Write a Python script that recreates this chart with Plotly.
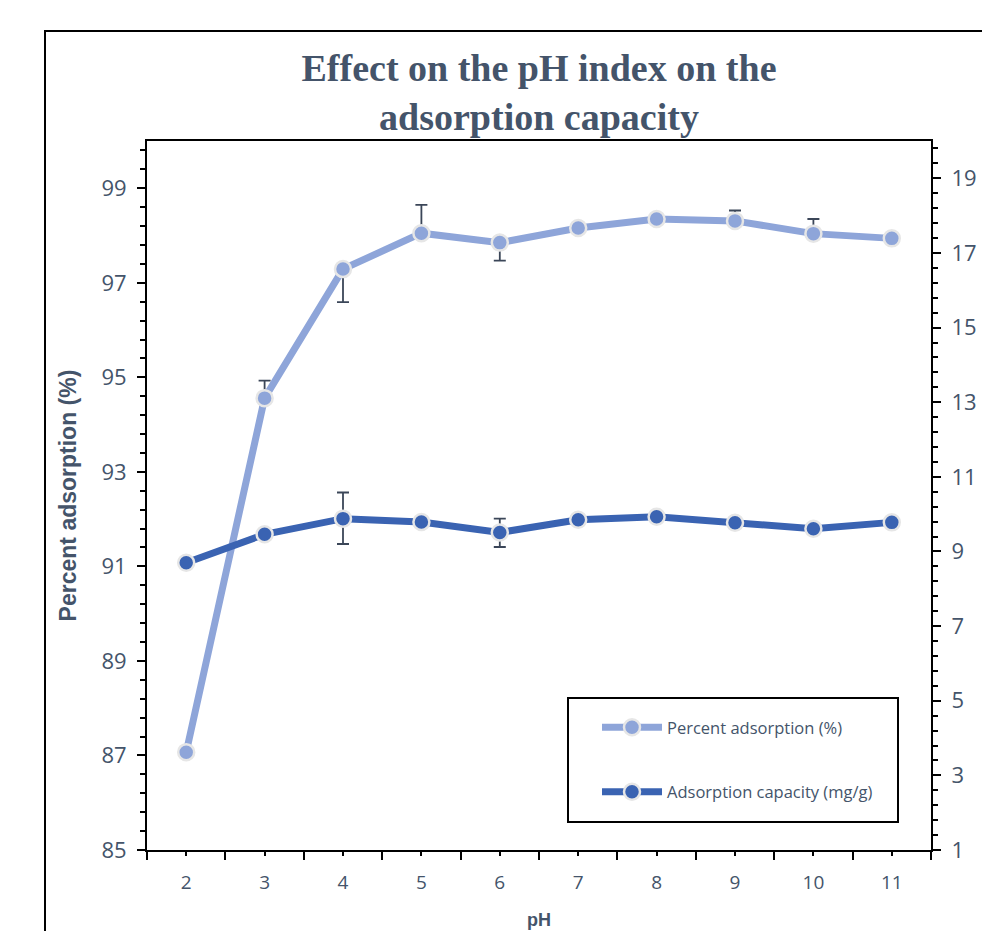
import plotly.graph_objects as go

# pH values and measured series
ph = [2, 3, 4, 5, 6, 7, 8, 9, 10, 11]
percent_adsorption = [87.07, 94.56, 97.29, 98.05, 97.85, 98.16, 98.35, 98.31, 98.04, 97.94]
percent_err_plus = [0, 0.37, 0, 0.60, 0, 0, 0, 0.22, 0.31, 0]
percent_err_minus = [0, 0, 0.70, 0, 0.38, 0, 0, 0, 0, 0]

capacity = [8.70, 9.46, 9.88, 9.79, 9.51, 9.85, 9.93, 9.77, 9.61, 9.78]
capacity_err_plus = [0, 0, 0.70, 0, 0.37, 0, 0, 0, 0, 0]
capacity_err_minus = [0, 0, 0.68, 0, 0.39, 0, 0, 0, 0, 0]

x_ticks = [str(v) for v in ph]

TEXT = "#44546A"
ERR = "#3B4658"
LIGHT = "#8EA5D9"
DARK = "#3A63B2"
X_TICK_FONT = dict(family="Open Sans", size=19, color=TEXT)
Y_TICK_FONT = dict(family="Open Sans", size=22, color=TEXT)

W, H = 982, 931
L, R, T, B = 147, 51, 141, 81

fig = go.Figure()

fig.add_trace(go.Scatter(
    x=ph, y=percent_adsorption, name="Percent adsorption (%)",
    mode="lines+markers", legendgroup="a",
    line=dict(color=LIGHT, width=7),
    marker=dict(size=16, color=LIGHT, line=dict(color="#E6E6E6", width=2.5)),
    error_y=dict(type="data", symmetric=False, array=percent_err_plus,
                 arrayminus=percent_err_minus, color=ERR, thickness=1.8, width=6),
))
fig.add_trace(go.Scatter(
    x=ph, y=capacity, name="Adsorption capacity (mg/g)", yaxis="y2",
    mode="lines+markers", legendgroup="b",
    line=dict(color=DARK, width=7),
    marker=dict(size=16, color=DARK, line=dict(color="#E6E6E6", width=2.5)),
    error_y=dict(type="data", symmetric=False, array=capacity_err_plus,
                 arrayminus=capacity_err_minus, color=ERR, thickness=1.8, width=6),
))

def px_x(p):
    return (p - L) / (W - L - R)

def px_y(p):
    return (H - B - p) / (H - T - B)

fig.update_layout(
    width=W, height=H,
    margin=dict(l=L, r=R, t=T, b=B, autoexpand=False),
    paper_bgcolor="white", plot_bgcolor="white",
    title=dict(
        text="Effect on the pH index on the<br>adsorption capacity",
        font=dict(family="Liberation Serif", size=38, color=TEXT, weight="bold"),
        x=0.5, xref="paper", xanchor="center",
        y=1 - 81 / H, yref="container", yanchor="top",
        automargin=False,
    ),
    xaxis=dict(
        range=[1.5, 11.5], tickvals=ph, ticktext=x_ticks,
        ticks="outside", ticklen=4, tickwidth=2, tickcolor="black",
        minor=dict(tickvals=[v + 0.5 for v in [1] + ph], ticks="outside",
                   ticklen=8, tickwidth=2, tickcolor="black"),
        showline=True, linecolor="black", linewidth=2, mirror=True,
        showgrid=False, zeroline=False, tickfont=X_TICK_FONT,
        ticklabelstandoff=10, automargin=False,
        title=dict(text="pH", font=dict(family="Liberation Sans", size=18,
                                          color=TEXT, weight="bold"), standoff=20),
    ),
    yaxis=dict(
        range=[85, 100], tick0=85, dtick=2, ticks="outside", ticklen=8,
        tickwidth=2, tickcolor="black",
        minor=dict(tick0=85, dtick=0.4, ticks="outside", ticklen=5,
                   tickwidth=2, tickcolor="black"),
        showline=True, linecolor="black", linewidth=2,
        showgrid=False, zeroline=False, tickfont=Y_TICK_FONT,
        ticklabelstandoff=6, automargin=False,
        title=dict(text="Percent adsorption (%)",
                   font=dict(family="Liberation Sans", size=23, color=TEXT,
                             weight="bold"), standoff=18),
    ),
    yaxis2=dict(
        range=[1, 20], tick0=1, dtick=2, overlaying="y", side="right",
        ticks="outside", ticklen=8, tickwidth=2, tickcolor="black",
        minor=dict(tick0=1, dtick=0.4, ticks="outside", ticklen=5,
                   tickwidth=2, tickcolor="black"),
        showline=True, linecolor="black", linewidth=2,
        showgrid=False, zeroline=False, tickfont=Y_TICK_FONT,
        ticklabelstandoff=6, automargin=False,
    ),
    legend=dict(
        x=px_x(597), y=px_y(710), xanchor="left", yanchor="top",
        bgcolor="rgba(0,0,0,0)", borderwidth=0,
        font=dict(family="Open Sans", size=16.5, color=TEXT),
        tracegroupgap=40, traceorder="grouped", itemwidth=60,
    ),
    shapes=[
        # legend frame
        dict(type="rect", xref="paper", yref="paper",
             x0=px_x(568), x1=px_x(898), y0=px_y(698), y1=px_y(822),
             line=dict(color="black", width=2), fillcolor="rgba(0,0,0,0)"),
        # outer chart frame (top and left edges)
        dict(type="line", xref="paper", yref="paper",
             x0=px_x(44), x1=px_x(990), y0=px_y(31), y1=px_y(31),
             line=dict(color="black", width=2)),
        dict(type="line", xref="paper", yref="paper",
             x0=px_x(45), x1=px_x(45), y0=px_y(30), y1=px_y(940),
             line=dict(color="black", width=2)),
    ],
)

fig.write_html("out.html")
